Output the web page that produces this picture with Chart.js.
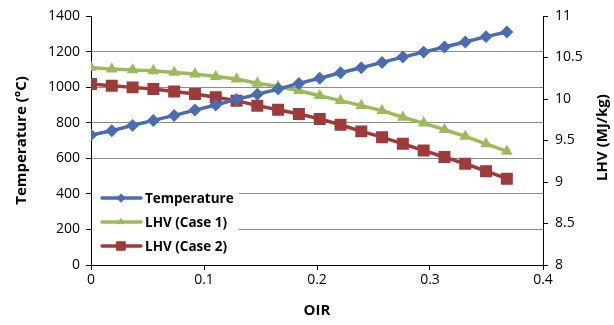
<!DOCTYPE html>
<html>
<head>
<meta charset="utf-8">
<script src="https://cdn.jsdelivr.net/npm/chart.js@4/dist/chart.umd.min.js"></script>
<style>
  html, body { margin: 0; padding: 0; background: #fff; }
  #wrap { width: 614px; height: 325px; }
</style>
</head>
<body>
<div id="wrap"><canvas id="chart" width="614" height="325"></canvas></div>
<script>
// OIR values (x)
const oir = [0, 0.0184, 0.0368, 0.0552, 0.0736, 0.092, 0.1104, 0.1288, 0.1472, 0.1656,
    0.184, 0.2024, 0.2208, 0.2392, 0.2576, 0.276, 0.2944, 0.3128, 0.3312, 0.3496, 0.368];

// Temperature (°C), left axis
const temperature = [731, 755, 785, 813, 841, 871, 900, 931, 960, 989,
    1021, 1050, 1081, 1109, 1139, 1169, 1197, 1226, 1254, 1284, 1310];

// LHV (MJ/kg), right axis
const lhvCase1 = [10.38, 10.36, 10.35, 10.34, 10.32, 10.30, 10.27, 10.24, 10.19, 10.15,
    10.10, 10.04, 9.98, 9.92, 9.86, 9.78, 9.71, 9.63, 9.55, 9.46, 9.37];
const lhvCase2 = [10.18, 10.16, 10.14, 10.12, 10.09, 10.06, 10.02, 9.98, 9.92, 9.87,
    9.82, 9.76, 9.69, 9.61, 9.54, 9.46, 9.38, 9.30, 9.22, 9.13, 9.04];

// tick values
const xTicks = [0, 0.1, 0.2, 0.3, 0.4];
const tempTicks = [0, 200, 400, 600, 800, 1000, 1200, 1400];
const lhvTicks = [8, 8.5, 9, 9.5, 10, 10.5, 11];

const rightTitle = 'LHV (MJ/kg)';

const FONT = '"Open Sans", "Liberation Sans", sans-serif';

const toPoints = ys => ys.map((y, i) => ({ x: oir[i], y: y }));
const setTicks = vals => axis => { axis.ticks = vals.map(v => ({ value: v })); };
const plain = v => String(v);

// legend drawn inside the plot, bottom left
const insideLegend = {
    id: 'insideLegend',
    afterDatasetsDraw(chart) {
        const ctx = chart.ctx;
        const area = chart.chartArea;
        const x0 = area.left + 10, y0 = area.bottom - 67;
        ctx.save();
        ctx.fillStyle = '#fff';
        ctx.fillRect(area.left + 1, area.bottom - 80, 147, 76);
        chart.data.datasets.forEach((ds, i) => {
            const y = y0 + i * 24;
            ctx.strokeStyle = ds.borderColor;
            ctx.lineWidth = 3.5;
            ctx.lineCap = 'round';
            ctx.beginPath();
            ctx.moveTo(x0 + 1, y);
            ctx.lineTo(x0 + 40, y);
            ctx.stroke();
            ctx.fillStyle = ds.backgroundColor;
            ctx.strokeStyle = ds.borderColor;
            ctx.lineWidth = 1;
            Chart.helpers.drawPoint(ctx, {
                pointStyle: ds.pointStyle, radius: ds.pointRadius, borderWidth: 1
            }, x0 + 20, y);
            ctx.fillStyle = '#000';
            ctx.font = 'bold 13.5px ' + FONT;
            ctx.textBaseline = 'middle';
            ctx.fillText(ds.label, x0 + 44, y + 1);
        });
        ctx.restore();
    }
};

// right axis title, reading bottom to top
const rightAxisTitle = {
    id: 'rightAxisTitle',
    afterDraw(chart) {
        const ctx = chart.ctx;
        const area = chart.chartArea;
        ctx.save();
        ctx.translate(chart.width - 11, (area.top + area.bottom) / 2 - 3);
        ctx.rotate(-Math.PI / 2);
        ctx.fillStyle = '#000';
        ctx.font = 'bold 15px ' + FONT;
        ctx.textAlign = 'center';
        ctx.textBaseline = 'middle';
        ctx.fillText(rightTitle, 0, 0);
        ctx.restore();
    }
};

const ctx = document.getElementById('chart').getContext('2d');
new Chart(ctx, {
    type: 'line',
    data: {
        datasets: [{
            label: 'Temperature',
            data: toPoints(temperature),
            yAxisID: 'y',
            borderColor: '#4a6cb2',
            backgroundColor: '#4a6cb2',
            borderWidth: 3.5,
            pointStyle: 'rectRot',
            pointRadius: 4,
            tension: 0
        }, {
            label: 'LHV (Case 1)',
            data: toPoints(lhvCase1),
            yAxisID: 'y1',
            borderColor: '#9bbb59',
            backgroundColor: '#9bbb59',
            borderWidth: 3.5,
            pointStyle: 'triangle',
            pointRadius: 3.3,
            tension: 0
        }, {
            label: 'LHV (Case 2)',
            data: toPoints(lhvCase2),
            yAxisID: 'y1',
            borderColor: '#9e3b3a',
            backgroundColor: '#9e3b3a',
            borderWidth: 3.5,
            pointStyle: 'rect',
            pointRadius: 6,
            tension: 0
        }]
    },
    options: {
        responsive: false,
        animation: false,
        events: [],
        layout: { padding: { top: 16, left: 0, right: 0, bottom: 0 } },
        plugins: { legend: { display: false }, tooltip: { enabled: false } },
        scales: {
            x: {
                type: 'linear',
                min: 0, max: 0.4,
                afterBuildTicks: setTicks(xTicks),
                afterFit: s => { s.height = 60; },
                border: { color: '#000', width: 1 },
                grid: { drawOnChartArea: false, tickColor: '#000', tickLength: 5 },
                ticks: { color: '#000', font: { family: FONT, size: 14 }, padding: 2, maxRotation: 0, callback: plain },
                title: { display: true, text: 'OIR', color: '#000',
                    font: { family: FONT, size: 15, weight: 'bold' }, padding: { bottom: 5 } }
            },
            y: {
                position: 'left',
                min: 0, max: 1400,
                afterBuildTicks: setTicks(tempTicks),
                afterFit: s => { s.width = 91; },
                border: { color: '#000', width: 1 },
                grid: {
                    color: c => (c.tick && (c.tick.value === 1400 || c.tick.value === 0)) ? 'rgba(0,0,0,0)' : '#8c8c8c',
                    tickColor: '#000', tickLength: 5
                },
                ticks: { color: '#000', font: { family: FONT, size: 14 }, padding: 6, callback: plain },
                title: { display: true, text: 'Temperature (°C)', color: '#000',
                    font: { family: FONT, size: 15, weight: 'bold' }, padding: { top: 13 } }
            },
            y1: {
                position: 'right',
                min: 8, max: 11,
                afterBuildTicks: setTicks(lhvTicks),
                afterFit: s => { s.width = 71; },
                border: { color: '#000', width: 1 },
                grid: { drawOnChartArea: false, tickColor: '#000', tickLength: 5 },
                ticks: { color: '#000', font: { family: FONT, size: 14 }, padding: 7, callback: plain },
                title: { display: false }
            }
        }
    },
    plugins: [insideLegend, rightAxisTitle]
});
</script>
</body>
</html>
